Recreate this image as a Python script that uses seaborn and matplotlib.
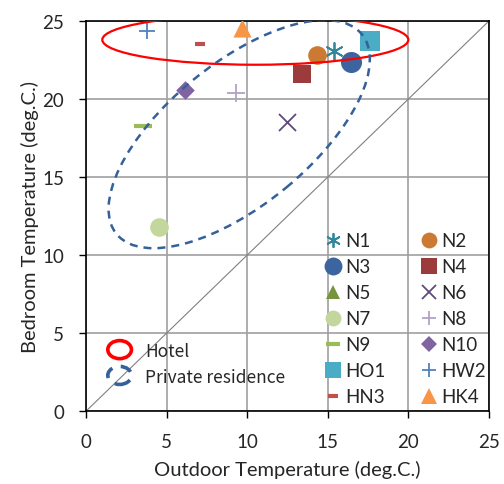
import numpy as np
import matplotlib
matplotlib.use("Agg")
import matplotlib.pyplot as plt
import seaborn as sns
from matplotlib.patches import Ellipse
from matplotlib.lines import Line2D
from matplotlib.legend_handler import HandlerPatch

# data
names = ["N1", "N2", "N3", "N4", "N5", "N6", "N7", "N8", "N9", "N10",
         "HO1", "HW2", "HN3", "HK4"]
outdoor = [15.4, 14.35, 16.45, 13.4, np.nan, 12.45, 4.5, 9.3, 3.5, 6.15,
           17.65, 3.8, 7.05, 9.7]
bedroom = [23.1, 22.8, 22.35, 21.6, np.nan, 18.55, 11.8, 20.4, 18.25, 20.6,
           23.7, 24.35, 23.5, 24.55]
markers = [(6, 2, 0), "o", "o", "s", "^", "x", "o", "+", "_", "D",
           "s", "+", "_", "^"]
colors = ["#31879B", "#CC7A33", "#3C65A0", "#9B3B3B", "#77933C", "#604A7B",
          "#C3D69B", "#B3A2C7", "#9BBB59", "#8064A2", "#4BACC6", "#4F81BD",
          "#C0504D", "#F79646"]
sizes = [150, 180, 230, 180, 150, 150, 180, 150, 150, 90, 190, 140, 60, 170]

sns.set_style("white")
plt.rcParams["font.family"] = ["Lato", "DejaVu Sans"]

fig = plt.figure(figsize=(5.04, 4.85), dpi=100)
ax = fig.add_axes([0.171, 0.1505, 0.799, 0.804])

# diagonal y = x
ax.plot([0, 25], [0, 25], color="#808080", lw=0.8, zorder=1)

unfilled = ("x", "+", "_", (6, 2, 0))
proxies = []
for n, x, y, m, c, s in zip(names, outdoor, bedroom, markers, colors, sizes):
    if m in unfilled:
        lw = 3 if m == "_" else 1.3
        sns.scatterplot(x=[x], y=[y], marker=m, color=c, s=s, ax=ax,
                        linewidth=lw, zorder=3, legend=False)
    else:
        lw = 0
        sns.scatterplot(x=[x], y=[y], marker=m, color=c, s=s, ax=ax,
                        linewidth=0, zorder=3, legend=False)
    proxies.append(Line2D([], [], ls="none", marker=m, color=c,
                          markersize=np.sqrt(s) * 0.85, markeredgewidth=lw))

# group outlines
hotel = Ellipse((10.5, 23.8), 19.0, 3.2, angle=0, fill=False,
                edgecolor="red", lw=1.6, zorder=4)
home = Ellipse((9.5, 17.75), 19.9, 9.0, angle=40.5, fill=False,
               edgecolor="#35609A", lw=1.8, ls=(0, (3.2, 2.4)), zorder=4)
ax.add_patch(hotel)
ax.add_patch(home)

ax.set_xlim(0, 25)
ax.set_ylim(0, 25)
ax.set_xticks(range(0, 26, 5))
ax.set_yticks(range(0, 26, 5))
ax.grid(True, color="#A0A0A0", lw=1.2)
ax.set_axisbelow(True)
for sp in ax.spines.values():
    sp.set_color("black")
    sp.set_linewidth(1.2)
ax.tick_params(labelsize=13.5, length=5, width=1, color="black",
               direction="out", bottom=True, left=True)
ax.tick_params(axis="x", pad=11)
ax.tick_params(axis="y", pad=11)
ax.set_xlabel("Outdoor Temperature (deg.C.)", fontsize=14.5, labelpad=7)
ax.set_ylabel("Bedroom Temperature (deg.C.)", fontsize=14.5, labelpad=2)

# marker legend, filled row by row like the original
order = list(range(0, 14, 2)) + list(range(1, 14, 2))
leg1 = ax.legend([proxies[i] for i in order], [names[i] for i in order],
                 ncol=2, frameon=False, loc="upper left",
                 bbox_to_anchor=(0.561, 0.482), fontsize=13.5,
                 handletextpad=0.05, columnspacing=1.75, labelspacing=0.48,
                 handlelength=1.2, borderpad=0)
ax.add_artist(leg1)


class EllipseHandler(HandlerPatch):
    def create_artists(self, legend, orig, xd, yd, w, h, fs, trans):
        e = Ellipse((w / 2 - xd, h / 2 - yd), 17, 13, fill=False,
                    edgecolor=orig.get_edgecolor(), lw=2.6,
                    ls=orig.get_linestyle())
        e.set_transform(trans)
        return [e]


leg2 = ax.legend([hotel, home], ["Hotel", "Private residence"],
                 handler_map={Ellipse: EllipseHandler()}, frameon=False,
                 loc="upper left", bbox_to_anchor=(0.027, 0.2),
                 prop={"family": ["Noto Sans CJK JP", "DejaVu Sans"], "size": 12.5},
                 handlelength=1.6, handletextpad=0.65, labelspacing=0.45,
                 borderpad=0)

fig.savefig("out.png", dpi=100)
